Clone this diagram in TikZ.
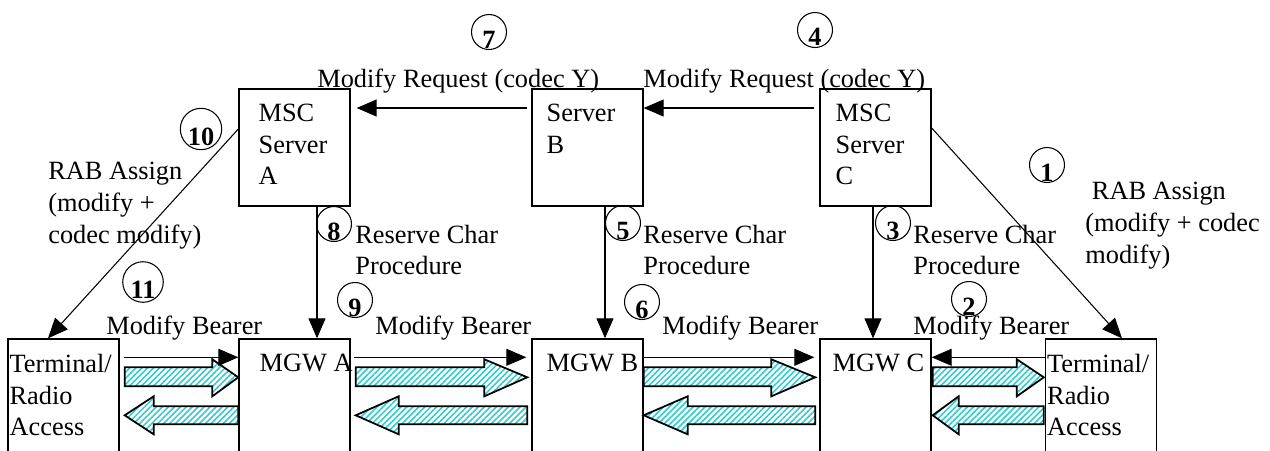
\documentclass[tikz,border=0pt]{standalone}
\usepackage{fontspec}
\setmainfont{Liberation Serif}
\usetikzlibrary{arrows.meta,patterns.meta,calc}
\definecolor{hatchcyan}{RGB}{51,204,204}

\begin{document}
\begin{tikzpicture}[x=0.02cm,y=-0.02cm,font=\fontsize{15}{18}\selectfont,
  srvbox/.style={draw,line width=0.8pt,minimum width=2.22cm,minimum height=2.34cm,inner sep=0pt},
  lowbox/.style={srvbox,minimum height=2.7cm},
  boxtext/.style={anchor=north west,align=left,inner sep=0pt,yshift=-0.31cm},
  lbl/.style={inner sep=0pt,align=left},
  numcirc/.style={circle,draw,line width=0.6pt,minimum size=0.7cm,inner sep=0pt,
    font=\fontsize{15}{18}\selectfont\bfseries,text height=0.64cm,text depth=0pt},
  msg/.style={line width=0.6pt,-{Triangle[length=0.4cm,width=0.34cm]}},
  flow/.style={line width=1pt,pattern={Lines[angle=45,distance=2.4pt,line width=0.9pt]},pattern color=hatchcyan}]
  \useasboundingbox (0,0) rectangle (1270,450);
  \clip (0,0) rectangle (1270,450);

  \node[srvbox,label={[boxtext,xshift=0.4cm]north west:MSC\\Server\\A}] (mscA) at (294.5,147.5) {};
  \node[srvbox,label={[boxtext,xshift=0.3cm]north west:Server\\B}] (srvB) at (587.5,147.5) {};
  \node[srvbox,label={[boxtext,xshift=0.32cm]north west:MSC\\Server\\C}] (mscC) at (875.5,147.5) {};

  \node[lowbox,label={[boxtext,xshift=0.04cm]north west:Terminal/\\Radio\\Access}] (termL) at (63.5,406.5) {};
  \node[lowbox,label={[boxtext,xshift=0.42cm]north west:MGW A}] (mgwA) at (294.5,406.5) {};
  \node[lowbox,label={[boxtext,xshift=0.3cm]north west:MGW B}] (mgwB) at (587.5,406.5) {};
  \node[lowbox,label={[boxtext,xshift=0.26cm]north west:MGW C}] (mgwC) at (875.5,406.5) {};
  \node[lowbox,label={[boxtext,xshift=0.04cm]north west:Terminal/\\Radio\\Access}] (termR) at (1101,406.5) {};

  \draw[msg,shorten <=0.1cm] ([yshift=0.79cm]mscC.west) -- ([yshift=0.79cm]srvB.east);
  \draw[msg,shorten <=0.08cm,shorten >=0.12cm] ([yshift=0.79cm]srvB.west) -- ([yshift=0.79cm]mscA.east);
  \draw[msg] ([yshift=0.37cm]mscA.west) -- ([xshift=-0.31cm]termL.north);
  \draw[msg] ([yshift=0.39cm]mscC.east) -- ([xshift=0.42cm]termR.north);
  \draw[msg] ([xshift=0.45cm]mscA.south) -- ([xshift=0.45cm]mgwA.north);
  \draw[msg] ([xshift=0.35cm]srvB.south) -- ([xshift=0.35cm]mgwB.north);
  \draw[msg] ([xshift=-0.05cm]mscC.south) -- ([xshift=-0.05cm]mgwC.north);

  \draw[msg,shorten <=0.08cm] ([yshift=-0.38cm]termL.north east) -- ([yshift=-0.38cm]mgwA.north west);
  \draw[msg,shorten <=0.06cm,shorten >=0.1cm] ([yshift=-0.38cm]mgwA.north east) -- ([yshift=-0.38cm]mgwB.north west);
  \draw[msg,shorten >=0.1cm] ([yshift=-0.38cm]mgwB.north east) -- ([yshift=-0.38cm]mgwC.north west);
  \draw[msg] ([yshift=-0.38cm]termR.north west) -- ([yshift=-0.38cm]mgwC.north east);

  \foreach \l/\r/\ga/\gb/\hu/\hl in {termL/mgwA/0.1/0/0.52/0.58, mgwA/mgwB/0.1/0.08/0.86/0.86,
      mgwB/mgwC/0/0.08/0.88/0.88, mgwC/termR/0.02/0.02/0.54/0.52}
    \draw[flow] let \p1=(\l.north east), \p2=(\r.north west) in
      (\x1+\ga cm,\y1-0.58cm) -- (\x2-\gb cm-\hu cm,\y1-0.58cm) -- (\x2-\gb cm-\hu cm,\y1-0.42cm)
      -- (\x2-\gb cm,\y1-0.78cm) -- (\x2-\gb cm-\hu cm,\y1-1.16cm) -- (\x2-\gb cm-\hu cm,\y1-0.96cm)
      -- (\x1+\ga cm,\y1-0.96cm) -- cycle
      (\x2-\gb cm,\y1-1.36cm) -- (\x1+\ga cm+\hl cm,\y1-1.36cm) -- (\x1+\ga cm+\hl cm,\y1-1.16cm)
      -- (\x1+\ga cm,\y1-1.54cm) -- (\x1+\ga cm+\hl cm,\y1-1.92cm) -- (\x1+\ga cm+\hl cm,\y1-1.72cm)
      -- (\x2-\gb cm,\y1-1.72cm) -- cycle;

  \node[lbl,anchor=base west] (reqA) at (317,87) {Modify Request (codec Y)};
  \node[lbl,anchor=base west] (reqB) at (643,87) {Modify Request (codec Y)};
  \node[lbl,anchor=west] (rabA) at (48,205.6) {RAB Assign\\(modify +\\codec modify)};
  \node[lbl,anchor=west] (rabC) at (1085,225.6) {~RAB Assign\\(modify + codec\\modify)};
  \node[lbl,anchor=west] (resA) at (355,250) {Reserve Char\\Procedure};
  \node[lbl,anchor=west] (resB) at (643,250) {Reserve Char\\Procedure};
  \node[lbl,anchor=west] (resC) at (913,250) {Reserve Char\\Procedure};
  \node[lbl,anchor=base west] (bearA) at (106,334) {Modify Bearer};
  \node[lbl,anchor=base west] (bearB) at (375,334) {Modify Bearer};
  \node[lbl,anchor=base west] (bearC) at (662,334) {Modify Bearer};
  \node[lbl,anchor=base west] (bearR) at (913,334) {Modify Bearer};

  \node[numcirc] (n1) at (1047,165) {1};
  \node[numcirc] (n2) at (969,299) {2};
  \node[numcirc] (n3) at (893,223) {3};
  \node[numcirc] (n4) at (815,30) {4};
  \node[numcirc] (n5) at (623,223) {5};
  \node[numcirc] (n6) at (642,302) {6};
  \node[numcirc] (n7) at (489,32) {7};
  \node[numcirc] (n8) at (334,224) {8};
  \node[numcirc] (n9) at (355,300) {9};
  \node[numcirc] (n10) at (201,129) {10};
  \node[numcirc] (n11) at (143,282) {11};
\end{tikzpicture}
\end{document}
